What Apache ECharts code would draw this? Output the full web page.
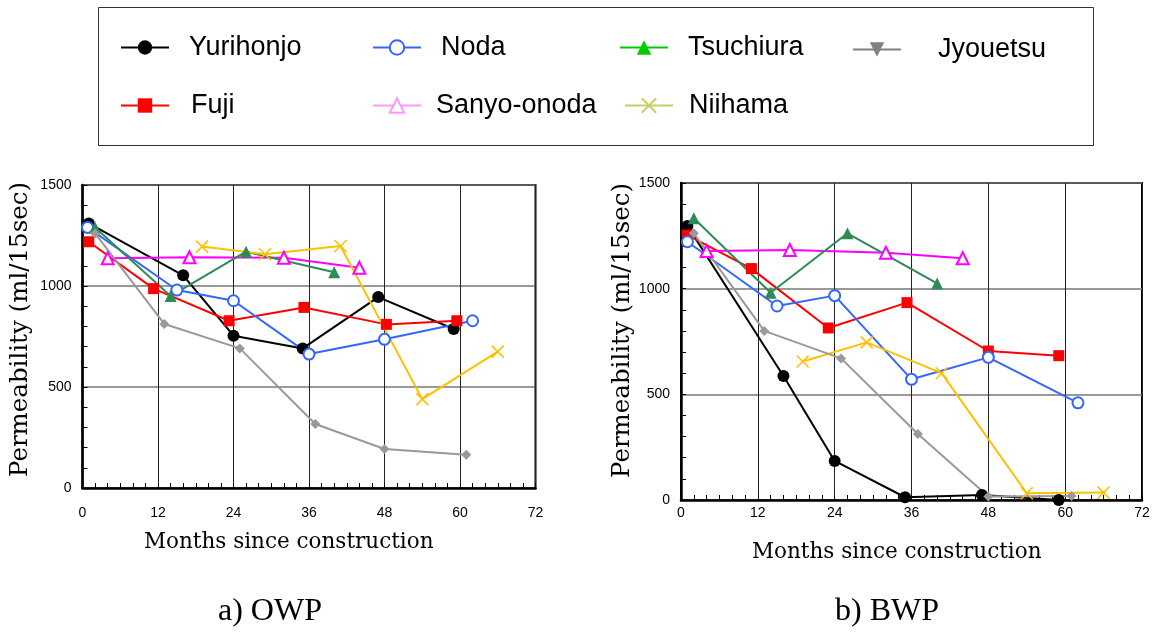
<!DOCTYPE html>
<html>
<head>
<meta charset="utf-8">
<script src="https://cdn.jsdelivr.net/npm/echarts@6/dist/echarts.min.js"></script>
<style>
html,body{margin:0;padding:0;background:#fff;}
#main{width:1154px;height:632px;}
</style>
</head>
<body>
<div id="main"></div>
<script>
// site names
var sites = ['Yurihonjo', 'Fuji', 'Noda', 'Sanyo-onoda', 'Tsuchiura', 'Niihama', 'Jyouetsu'];
var monthTicks = [0, 12, 24, 36, 48, 60, 72];

// a) OWP  [month, permeability]
var owpYurihonjo = [[1, 1310], [16, 1053], [24, 754], [35, 691], [47, 945], [59, 787]];
var owpNoda = [[0.8, 1290], [15, 980], [24, 927], [36, 663], [48, 736], [62, 828]];
var owpFuji = [[1, 1219], [11.3, 987], [23.3, 828], [35.2, 894], [48.3, 810], [59.5, 828]];
var owpTsuchiura = [[2, 1290], [14, 950], [26, 1170], [40, 1068]];
var owpSanyo = [[4, 1137], [17, 1142], [32, 1140], [44, 1090]];
var owpNiihama = [[19, 1195], [29, 1157], [41, 1198], [54, 440], [66, 675]];
var owpJyouetsu = [[2, 1260], [13, 812], [25, 691], [37, 317], [48, 193], [61, 165]];

// b) BWP
var bwpYurihonjo = [[1, 1297], [16, 587], [24, 185], [35, 13], [47, 24], [59, 0]];
var bwpNoda = [[1, 1222], [15, 918], [24, 967], [36, 571], [48, 675], [62, 460]];
var bwpFuji = [[1, 1253], [11, 1095], [23, 814], [35.3, 934], [48, 705], [59, 683]];
var bwpTsuchiura = [[2, 1333], [14, 981], [26, 1262], [40, 1025]];
var bwpSanyo = [[4, 1178], [17, 1183], [32, 1170], [44, 1144]];
var bwpNiihama = [[19, 655], [29, 746], [40.7, 600], [54, 32], [66, 35]];
var bwpJyouetsu = [[2, 1262], [13, 800], [25, 670], [37, 312], [48, 16], [61, 19]];

var crossPath = 'path://M0,0L10,10M10,0L0,10';

// look of each site in the plots
var looks = {
  'Yurihonjo':   {color: '#000000', symbol: 'circle', size: 12},
  'Fuji':        {color: '#ff0000', symbol: 'rect', size: 11},
  'Noda':        {color: '#3366ff', symbol: 'emptyCircle', size: 11},
  'Sanyo-onoda': {color: '#ff00ff', symbol: 'emptyTriangle', size: 12},
  'Tsuchiura':   {color: '#2e8b57', symbol: 'triangle', size: 12},
  'Niihama':     {color: '#ffc000', symbol: crossPath, size: 12},
  'Jyouetsu':    {color: '#999999', symbol: 'diamond', size: 10}
};
// look of each site in the legend box
var legendLooks = {
  'Yurihonjo':   {color: '#000000', symbol: 'circle', rotate: 0},
  'Fuji':        {color: '#ff0000', symbol: 'rect', rotate: 0},
  'Noda':        {color: '#3366ff', symbol: 'emptyCircle', rotate: 0},
  'Sanyo-onoda': {color: '#ff99ff', symbol: 'emptyTriangle', rotate: 0},
  'Tsuchiura':   {color: '#00cc00', symbol: 'triangle', rotate: 0},
  'Niihama':     {color: '#cccc66', symbol: crossPath, rotate: 0},
  'Jyouetsu':    {color: '#808080', symbol: 'triangle', rotate: 180}
};
// left, top, gap between icon and text
var legendPos = {
  'Yurihonjo':   [120, 34, 15],
  'Noda':        [372, 34, 15],
  'Tsuchiura':   [619, 34, 15],
  'Jyouetsu':    [852, 36, 32],
  'Fuji':        [120, 92, 17],
  'Sanyo-onoda': [372, 92, 10],
  'Niihama':     [624, 92, 11]
};

var owpData = {
  'Yurihonjo': owpYurihonjo, 'Fuji': owpFuji, 'Noda': owpNoda, 'Sanyo-onoda': owpSanyo,
  'Tsuchiura': owpTsuchiura, 'Niihama': owpNiihama, 'Jyouetsu': owpJyouetsu
};
var bwpData = {
  'Yurihonjo': bwpYurihonjo, 'Fuji': bwpFuji, 'Noda': bwpNoda, 'Sanyo-onoda': bwpSanyo,
  'Tsuchiura': bwpTsuchiura, 'Niihama': bwpNiihama, 'Jyouetsu': bwpJyouetsu
};

var myChart = echarts.init(document.getElementById('main'));

var series = [];
// empty series first, so the legend draws its own symbols and colours
sites.forEach(function (name) {
  var lk = legendLooks[name];
  series.push({
    name: name, type: 'line', xAxisIndex: 0, yAxisIndex: 0, data: [],
    symbol: lk.symbol, symbolRotate: lk.rotate,
    lineStyle: {color: lk.color, width: 4},
    itemStyle: {color: lk.color, borderColor: lk.color, borderWidth: lk.symbol === crossPath ? 3 : 0}
  });
});
function addSeries(dataMap, idx) {
  sites.forEach(function (name) {
    var lk = looks[name];
    var isCross = lk.symbol === crossPath;
    series.push({
      name: name, type: 'line', xAxisIndex: idx, yAxisIndex: idx,
      data: dataMap[name],
      symbol: lk.symbol, symbolSize: lk.size, showSymbol: true,
      lineStyle: {color: lk.color, width: 2},
      itemStyle: {color: lk.color, borderColor: lk.color,
        borderWidth: isCross ? 1.5 : (lk.symbol.indexOf('empty') === 0 ? 1.5 : 0)},
      emphasis: {disabled: true},
      z: 3
    });
  });
}
addSeries(owpData, 0);
addSeries(bwpData, 1);

var legends = sites.map(function (name) {
  return {
    data: [name], left: legendPos[name][0], top: legendPos[name][1],
    orient: 'horizontal', padding: 0,
    itemWidth: 48, itemHeight: 18,
    selectedMode: false,
    textStyle: {fontFamily: 'Liberation Sans, Arial', fontSize: 27, color: '#000', padding: [0, 0, 0, legendPos[name][2]]}
  };
});

function xAxisOf(idx, margin) {
  return {
    type: 'value', gridIndex: idx, min: monthTicks[0], max: monthTicks[monthTicks.length - 1], interval: 12,
    axisLine: {show: true, onZero: false, lineStyle: {color: '#000', width: 2.5}},
    axisTick: {show: true, inside: true, length: 5, lineStyle: {color: '#000'}},
    minorTick: {show: true, splitNumber: 6, length: 5, lineStyle: {color: '#000', width: 1}},
    splitLine: {show: true, lineStyle: {color: '#222', width: 1}},
    axisLabel: {fontFamily: 'Liberation Sans, Arial', fontSize: 14, color: '#000', margin: margin,
      formatter: function (v) { return monthTicks.indexOf(v) >= 0 ? String(v) : ''; }}
  };
}
function yAxisOf(idx, gap, shift) {
  return {
    type: 'value', gridIndex: idx, min: 0, max: 1500, interval: 500,
    name: 'Permeability (ml/15sec)', nameLocation: 'middle', nameRotate: 90, nameGap: gap,
    nameTextStyle: {fontFamily: 'DejaVu Serif', fontSize: 24.5, color: '#000', padding: [0, 0, 0, shift]},
    axisLine: {show: true, onZero: false, lineStyle: {color: '#000', width: 2.5}},
    axisTick: {show: true, inside: true, length: 5, lineStyle: {color: '#000'}},
    minorTick: {show: true, splitNumber: 5, length: 5, lineStyle: {color: '#000', width: 1}},
    splitLine: {show: true, lineStyle: {color: '#777', width: 1.5}},
    axisLabel: {fontFamily: 'Liberation Sans, Arial', fontSize: 14, color: '#000', margin: 11,
      formatter: function (v) { return String(v); }}
  };
}

var axisTitleStyle = {fontFamily: 'DejaVu Serif', fontSize: 21.5, fontWeight: 'normal', color: '#000'};
var captionStyle = {fontFamily: 'Liberation Serif', fontSize: 32, fontWeight: 'normal', color: '#000'};

var option = {
  animation: false,
  backgroundColor: '#fff',
  title: [
    {text: 'Months since construction', left: 144, top: 531, padding: 0, textStyle: axisTitleStyle},
    {text: 'Months since construction', left: 752, top: 541, padding: 0, textStyle: axisTitleStyle},
    {text: 'a) OWP', left: 218, top: 596, padding: 0, textStyle: captionStyle},
    {text: 'b) BWP', left: 835, top: 596, padding: 0, textStyle: captionStyle}
  ],
  legend: legends,
  graphic: [{
    type: 'rect', left: 98, top: 7, z: -1,
    shape: {width: 995, height: 138},
    style: {fill: '#fff', stroke: '#333', lineWidth: 1}
  }],
  grid: [
    {left: 82.5, top: 185, width: 453, height: 303, show: true, borderColor: '#000', borderWidth: 2},
    {left: 681, top: 183, width: 461, height: 317, show: true, borderColor: '#000', borderWidth: 2}
  ],
  xAxis: [xAxisOf(0, 18), xAxisOf(1, 6)],
  yAxis: [yAxisOf(0, 49, 14), yAxisOf(1, 46, 22)],
  series: series
};
myChart.setOption(option);
</script>
</body>
</html>
